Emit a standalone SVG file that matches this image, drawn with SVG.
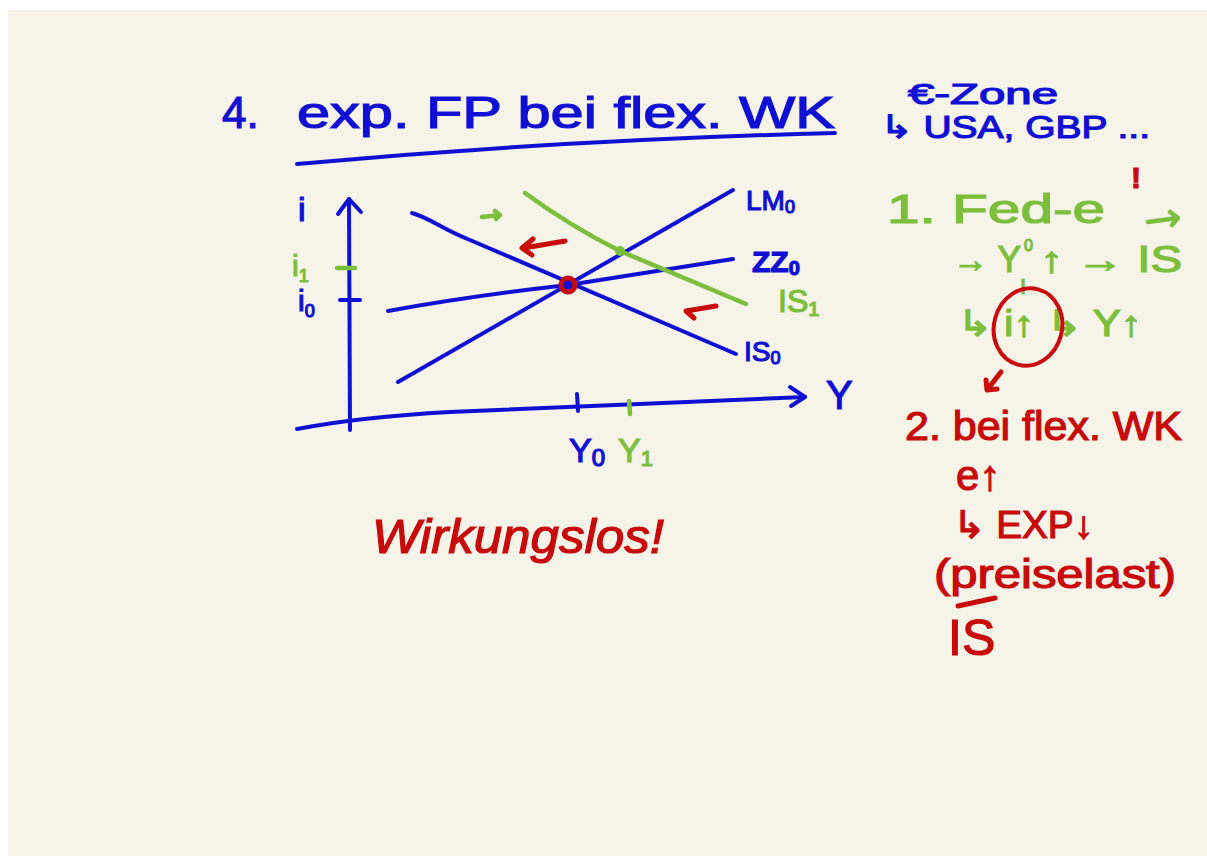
<svg xmlns="http://www.w3.org/2000/svg" width="1207" height="856" viewBox="0 0 1207 856">
  <defs>
    <style>
      .b { fill: #1010d4; }
      .g { fill: #7cbf3c; }
      .r { fill: #c80a0a; }
      .t { font-family: "Liberation Sans", "DejaVu Sans", sans-serif; }
      .lb { stroke: #1010d4; fill: none; stroke-width: 4; stroke-linecap: round; stroke-linejoin: round; }
      .lg { stroke: #7cbf3c; fill: none; stroke-width: 4.5; stroke-linecap: round; stroke-linejoin: round; }
      .lr { stroke: #c80a0a; fill: none; stroke-width: 5; stroke-linecap: round; stroke-linejoin: round; }
      .tb { stroke: #1010d4; stroke-width: 1.2; }
      .tg { stroke: #7cbf3c; stroke-width: 1.2; }
      .tr { stroke: #c80a0a; stroke-width: 1.2; }
    </style>
  </defs>

  <rect x="0" y="0" width="1207" height="856" fill="#ffffff"/>
  <rect x="8" y="10" width="1199" height="846" fill="#f6f3e8"/>

  <!-- Title -->
  <g id="title">
    <text class="t b tb" x="222" y="128" font-size="44">4.</text>
    <text class="t b tb" x="297" y="128" font-size="44" textLength="538" lengthAdjust="spacingAndGlyphs">exp. FP bei flex. WK</text>
    <path class="lb" d="M297,164 Q560,140 835,133" stroke-width="5"/>
  </g>

  <g id="note-ezone">
    <text class="t b tb" x="908" y="104" font-size="30" textLength="150" lengthAdjust="spacingAndGlyphs">€-Zone</text>
    <text class="t b tb" x="880" y="138" font-size="32" textLength="270" lengthAdjust="spacingAndGlyphs">↳ USA, GBP ...</text>
  </g>

  <!-- Chart -->
  <g id="chart">
    <g id="axes">
      <path class="lb" d="M350,430 L349,199"/>
      <path class="lb" d="M338,214 L349,199 L361,212"/>
      <path class="lb" d="M297,429 Q360,417 450,412 L805,397"/>
      <path class="lb" d="M790,387 L805,397 L791,406"/>
      <path class="lb" d="M340,300 L360,300"/>
      <path class="lg" d="M337,268 L355,268"/>
      <path class="lb" d="M577,394 L578,411"/>
      <path class="lg" d="M629,401 L630,414"/>
      <text class="t b tb" x="298" y="221" font-size="34">i</text>
      <text class="t g tg" x="292" y="276" font-size="30">i<tspan font-size="18" dy="6">1</tspan></text>
      <text class="t b tb" x="298" y="311" font-size="30">i<tspan font-size="18" dy="6">0</tspan></text>
      <text class="t b tb" x="826" y="409" font-size="40">Y</text>
      <text class="t b tb" x="569" y="462" font-size="34">Y<tspan font-size="24" dy="4">0</tspan></text>
      <text class="t g tg" x="618" y="462" font-size="34">Y<tspan font-size="22" dy="4">1</tspan></text>
    </g>
    <g id="curves">
      <path class="lb" d="M412,213 C430,218 442,229 470,240 L736,354"/>
      <path class="lb" d="M398,382 L733,190"/>
      <path class="lb" d="M388,311 Q470,296 568,285 L733,259" stroke-width="5"/>
      <path class="lg" d="M525,193 Q570,226 620,251 L746,304"/>
      <circle cx="620" cy="251" r="5" fill="#7cbf3c"/>
      <circle cx="568" cy="285" r="7" fill="#1010d4" stroke="#c80a0a" stroke-width="5"/>
    </g>
    <g id="curve-labels">
      <text class="t b tb" x="746" y="210" font-size="28">LM<tspan font-size="18" dy="3">0</tspan></text>
      <text class="t b tb" x="752" y="272" font-size="30" font-weight="bold">ZZ<tspan font-size="20" dy="3">0</tspan></text>
      <text class="t g tg" x="778" y="312" font-size="32">IS<tspan font-size="20" dy="4">1</tspan></text>
      <text class="t b tb" x="744" y="361" font-size="28">IS<tspan font-size="18" dy="3">0</tspan></text>
    </g>
    <g id="shift-arrows">
      <path class="lr" d="M565,241 L524,248 M533,239 L522,248 L532,255"/>
      <path class="lr" d="M716,306 L686,311 L694,318"/>
      <path class="lg" d="M482,217 L500,215 M495,211 L500,215 L496,219"/>
    </g>
  </g>

  <text id="verdict" class="t r tr" x="372" y="553" font-size="48" font-style="italic" textLength="292" lengthAdjust="spacingAndGlyphs">Wirkungslos!</text>

  <!-- Right notes, step 1 -->
  <g id="step1">
    <text class="t r tr" x="1131" y="188" font-size="30" font-weight="bold">!</text>
    <text class="t g tg" x="887" y="223" font-size="40" textLength="218" lengthAdjust="spacingAndGlyphs">1.  Fed-e</text>
    <path class="lg" d="M1148,222 L1178,218 M1170,212 L1178,218 L1172,225"/>
    <text class="t g tg" x="953" y="272" font-size="36" textLength="68" lengthAdjust="spacingAndGlyphs">→ Y</text>
    <text class="t g tg" x="1024" y="251" font-size="16">0</text>
    <text class="t g tg" x="1020" y="294" font-size="22">I</text>
    <text class="t g tg" x="1040" y="272" font-size="36" textLength="142" lengthAdjust="spacingAndGlyphs">↑ → IS</text>
    <text class="t g tg" x="957" y="336" font-size="36" textLength="185" lengthAdjust="spacingAndGlyphs">↳ i↑ ↳ Y↑</text>
    <ellipse cx="1028" cy="327" rx="34" ry="39" fill="none" stroke="#c80a0a" stroke-width="4" transform="rotate(15 1028 327)"/>
    <path class="lr" d="M1001,372 L987,390 M986,380 L987,390 L997,389" stroke-width="4"/>
  </g>

  <!-- Right notes, step 2 -->
  <g id="step2">
    <text class="t r tr" x="905" y="440" font-size="40" textLength="277" lengthAdjust="spacingAndGlyphs">2. bei flex. WK</text>
    <text class="t r tr" x="956" y="490" font-size="42">e↑</text>
    <text class="t r tr" x="953" y="538" font-size="38" textLength="140" lengthAdjust="spacingAndGlyphs">↳ EXP↓</text>
    <text class="t r tr" x="934" y="588" font-size="40" textLength="242" lengthAdjust="spacingAndGlyphs">(preiselast)</text>
    <path class="lr" d="M958,606 L995,598"/>
    <text class="t r tr" x="948" y="655" font-size="50">IS</text>
  </g>
</svg>
